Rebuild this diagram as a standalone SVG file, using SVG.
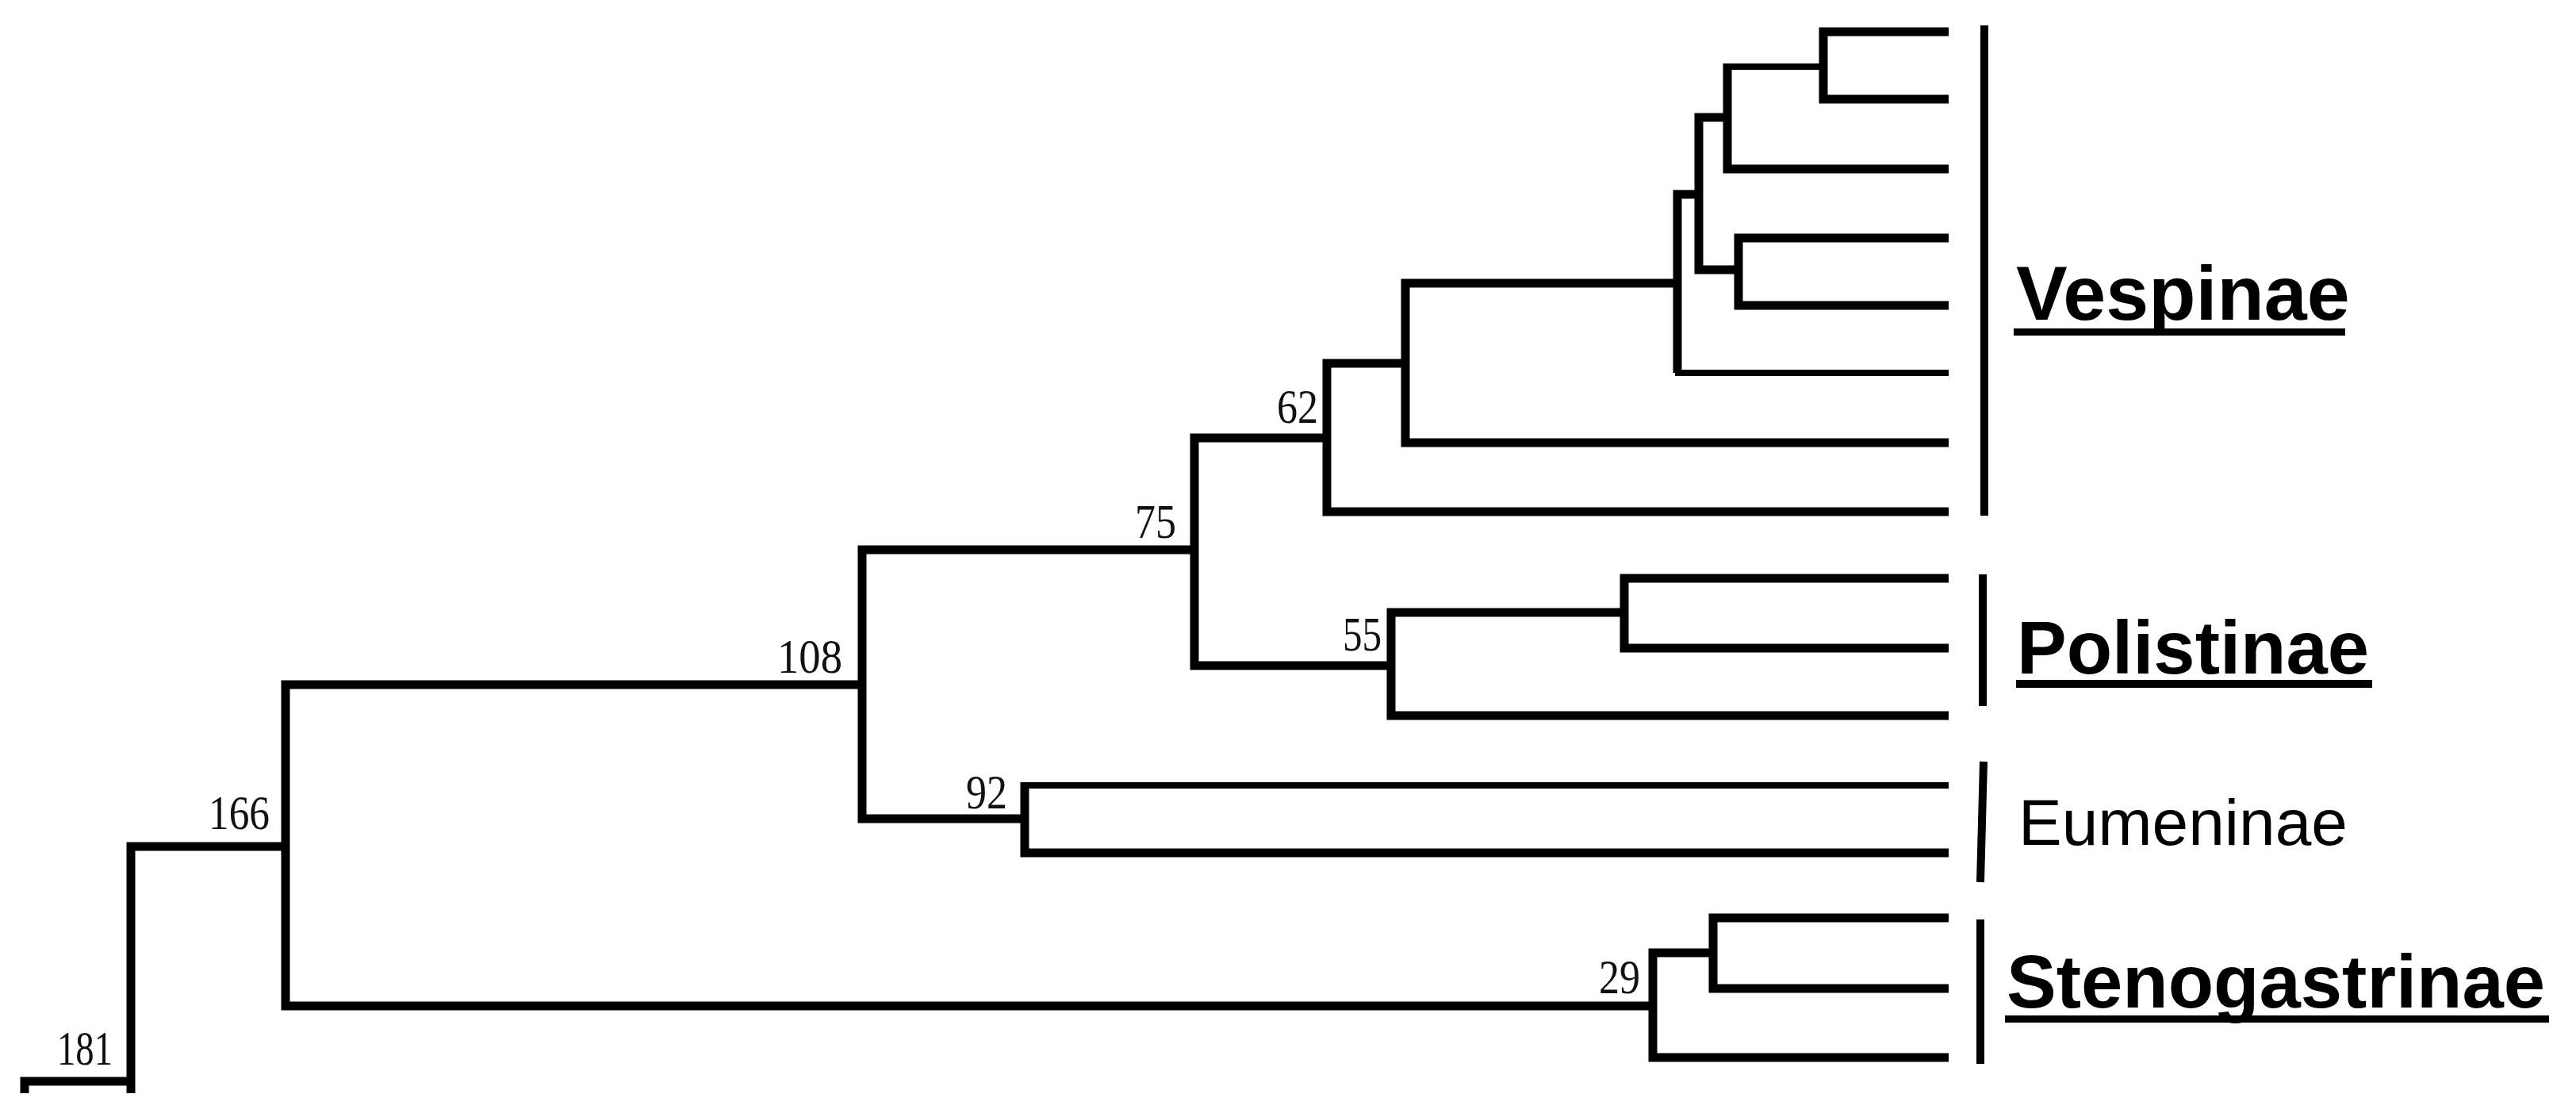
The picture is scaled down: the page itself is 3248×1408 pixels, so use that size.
<svg xmlns="http://www.w3.org/2000/svg" width="3248" height="1408" viewBox="0 0 3248 1408">
  <style>
    .br { fill: none; stroke: #000; stroke-width: 11; stroke-linejoin: miter; stroke-linecap: butt; }
    .thin { stroke-width: 8; }
    .bar { stroke: #000; stroke-width: 10; fill: none; }
    .num { font-family: "Liberation Serif", "Times New Roman", serif; font-size: 61px; fill: #111; text-anchor: end; }
    .clade { font-family: "Liberation Sans", Arial, sans-serif; fill: #000; }
    .bold { font-weight: bold; }
    .ul { fill: #000; }
  </style>
  <rect width="3248" height="1408" fill="#fff"/>

  <g id="connectors">
    <!-- root / 181 -->
    <path class="br" d="M165,1363 H31 V1378"/>
    <path class="br" d="M360,1067 H165 V1378"/>
    <!-- 166 -->
    <path class="br" d="M1087,863 H360 V1268 H2084"/>
    <!-- 108 -->
    <path class="br" d="M1506,693 H1087 V1032 H1292"/>
    <!-- 75 -->
    <path class="br" d="M1673,552 H1506 V839 H1754"/>
    <!-- 62 -->
    <path class="br" d="M1772,458 H1673 V645 H2457"/>
    <!-- Vespinae inner nodes -->
    <path class="br" d="M2115,357 H1772 V558 H2457"/>
    <path class="br" d="M2142,245 H2115 V470"/>
    <path class="br thin" d="M2112,470 H2457"/>
    <path class="br" d="M2178,148 H2142 V340 H2192"/>
    <path class="br thin" d="M2299,84 H2178"/>
    <path class="br" d="M2178,80 V213 H2457"/>
    <path class="br" d="M2457,40 H2299 V125 H2457"/>
    <path class="br" d="M2457,300 H2192 V385 H2457"/>
    <!-- 55 / Polistinae -->
    <path class="br" d="M2048,772 H1754 V902 H2457"/>
    <path class="br" d="M2457,729 H2048 V817 H2457"/>
    <!-- 92 / Eumeninae -->
    <path class="br thin" d="M2457,990 H1292"/>
    <path class="br" d="M1292,986 V1075 H2457"/>
    <!-- 29 / Stenogastrinae -->
    <path class="br" d="M2160,1201 H2084 V1333 H2457"/>
    <path class="br" d="M2457,1157 H2160 V1246 H2457"/>
  </g>

  <g id="node-181"><text class="num" x="142" y="1342" textLength="70" lengthAdjust="spacingAndGlyphs">181</text></g>
  <g id="node-166"><text class="num" x="340" y="1045" textLength="77" lengthAdjust="spacingAndGlyphs">166</text></g>
  <g id="node-108"><text class="num" x="1062" y="848" textLength="82" lengthAdjust="spacingAndGlyphs">108</text></g>
  <g id="node-92"><text class="num" x="1270" y="1019" textLength="52" lengthAdjust="spacingAndGlyphs">92</text></g>
  <g id="node-75"><text class="num" x="1483" y="678" textLength="52" lengthAdjust="spacingAndGlyphs">75</text></g>
  <g id="node-62"><text class="num" x="1662" y="533" textLength="52" lengthAdjust="spacingAndGlyphs">62</text></g>
  <g id="node-55"><text class="num" x="1742" y="820" textLength="49" lengthAdjust="spacingAndGlyphs">55</text></g>
  <g id="node-29"><text class="num" x="2068" y="1252" textLength="52" lengthAdjust="spacingAndGlyphs">29</text></g>

  <g id="clade-vespinae">
    <line class="bar" x1="2502" y1="32" x2="2502" y2="650"/>
    <text class="clade bold" x="2542" y="403" font-size="97">Vespinae</text>
    <rect class="ul" x="2539" y="414" width="418" height="9"/>
  </g>
  <g id="clade-polistinae">
    <line class="bar" x1="2500" y1="724" x2="2500" y2="890"/>
    <text class="clade bold" x="2543" y="849" font-size="94">Polistinae</text>
    <rect class="ul" x="2542" y="857" width="449" height="10"/>
  </g>
  <g id="clade-eumeninae">
    <line class="bar" x1="2501" y1="960" x2="2497" y2="1112"/>
    <text class="clade" x="2545" y="1065" font-size="82">Eumeninae</text>
  </g>
  <g id="clade-stenogastrinae">
    <line class="bar" x1="2497" y1="1159" x2="2497" y2="1341"/>
    <text class="clade bold" x="2530" y="1270" font-size="94">Stenogastrinae</text>
    <rect class="ul" x="2528" y="1280" width="686" height="9"/>
  </g>
</svg>
